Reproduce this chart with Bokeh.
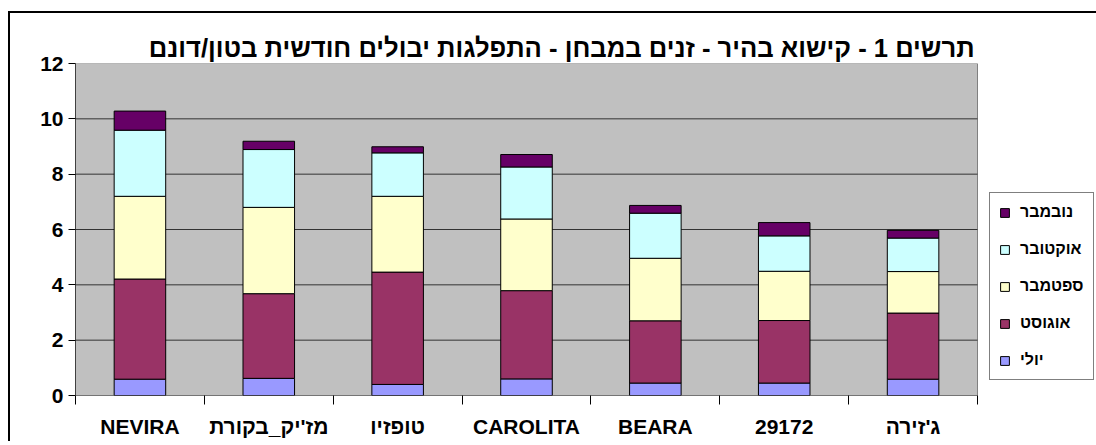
from bokeh.plotting import figure
from bokeh.models import (ColumnDataSource, FixedTicker, Legend, LegendItem, Range1d)
from bokeh.embed import file_html
from bokeh.resources import INLINE

# ---- data ----
categories = ["NEVIRA", "מז'יק_בקורת", "טופזיו", "CAROLITA", "BEARA", "29172", "ג'זירה"]
months = ["יולי", "אוגוסט", "ספטמבר", "אוקטובר", "נובמבר"]
july = [0.59, 0.62, 0.40, 0.60, 0.45, 0.45, 0.59]
august = [3.62, 3.06, 4.06, 3.19, 2.25, 2.26, 2.39]
september = [2.99, 3.12, 2.74, 2.59, 2.26, 1.78, 1.50]
october = [2.39, 2.09, 1.57, 1.88, 1.63, 1.28, 1.21]
november = [0.69, 0.30, 0.22, 0.45, 0.28, 0.48, 0.28]
y_ticks = [0, 2, 4, 6, 8, 10, 12]
y_max = 12
title_text = "תרשים 1 - קישוא בהיר - זנים במבחן - התפלגות יבולים חודשית בטון/דונם"

colors = ["#9999FF", "#993366", "#FFFFCC", "#CCFFFF", "#660066"]
keys = ["july", "august", "september", "october", "november"]
FONT = "Liberation Sans"

n = len(categories)
xpos = [i + 0.5 for i in range(n)]
source = ColumnDataSource(dict(x=xpos, july=july, august=august,
                               september=september, october=october,
                               november=november))

# layout: gray plot area is 902px wide; frame extends right to hold the legend
PLOT_W = 902
FRAME_W = 1021
FRAME_H = 332

p = figure(frame_width=FRAME_W, frame_height=FRAME_H,
           x_range=Range1d(0, n * FRAME_W / PLOT_W), y_range=Range1d(0, y_max),
           output_backend="svg", toolbar_location=None,
           min_border_left=65, min_border_right=0,
           min_border_top=50, min_border_bottom=46)

# outer chart-area border (left and top edges visible, rest off-window)
p.styles = {"border-left": "2px solid black", "border-top": "2px solid black",
            "margin-left": "8px", "margin-top": "11px"}

p.background_fill_color = "white"
p.border_fill_color = "white"
p.outline_line_color = None

# gray plot area and grid lines, drawn through the data scales
p.quad(left=[0], right=[n], bottom=[0], top=[y_max],
       fill_color="#C0C0C0", line_color="#808080", line_width=1)
grid_y = y_ticks[:-1]
p.segment(x0=[0] * len(grid_y), x1=[n] * len(grid_y), y0=grid_y, y1=grid_y,
          line_color="#333333", line_width=1)

renderers = p.vbar_stack(keys, x="x", width=0.4, source=source,
                         fill_color=colors, line_color="black", line_width=1)

# title (right end aligned with the gray area's right edge)
p.title.text = title_text
p.title.align = "right"
p.title.offset = (FRAME_W - PLOT_W) + 3
p.title.text_font = FONT
p.title.text_font_size = "25.6px"
p.title.text_font_style = "bold"
p.title.text_color = "black"
p.title.standoff = 4

p.xgrid.visible = False
p.ygrid.visible = False

# y axis
p.yaxis.ticker = FixedTicker(ticks=y_ticks)
p.yaxis.axis_line_color = "#404040"
p.yaxis.major_tick_out = 7
p.yaxis.major_tick_in = 0
p.yaxis.major_tick_line_color = "black"
p.yaxis.minor_tick_line_color = None
p.yaxis.major_label_text_font = FONT
p.yaxis.major_label_text_font_size = "21px"
p.yaxis.major_label_text_font_style = "bold"
p.yaxis.major_label_text_color = "black"
p.yaxis.major_label_standoff = 5

# x axis: labels at centers, ticks at category boundaries
p.xaxis.ticker = FixedTicker(ticks=xpos, minor_ticks=list(range(n + 1)))
p.xaxis.major_label_overrides = {xpos[i]: categories[i] for i in range(n)}
p.xaxis.axis_line_color = None
p.xaxis.major_tick_line_color = None
p.xaxis.major_tick_out = 9
p.xaxis.major_tick_in = 0
p.xaxis.minor_tick_line_color = "black"
p.xaxis.minor_tick_out = 9
p.xaxis.minor_tick_in = 0
p.xaxis.major_label_text_font = FONT
p.xaxis.major_label_text_font_size = "21px"
p.xaxis.major_label_text_font_style = "bold"
p.xaxis.major_label_text_color = "black"
p.xaxis.major_label_standoff = 10

# legend (Nov on top), to the right of the gray area
items = [LegendItem(label=months[i], renderers=[renderers[i]])
         for i in reversed(range(len(months)))]
legend = Legend(items=items, location=(PLOT_W + 12, 15),
                glyph_width=11, glyph_height=11, label_standoff=10,
                label_height=20, spacing=17, padding=9, margin=0,
                label_text_font=FONT, label_text_font_size="16px",
                label_text_font_style="bold", label_text_color="black",
                border_line_color="black", border_line_width=1,
                background_fill_color="white", background_fill_alpha=1)
p.add_layout(legend)

open("out.html", "w").write(file_html(p, INLINE))
